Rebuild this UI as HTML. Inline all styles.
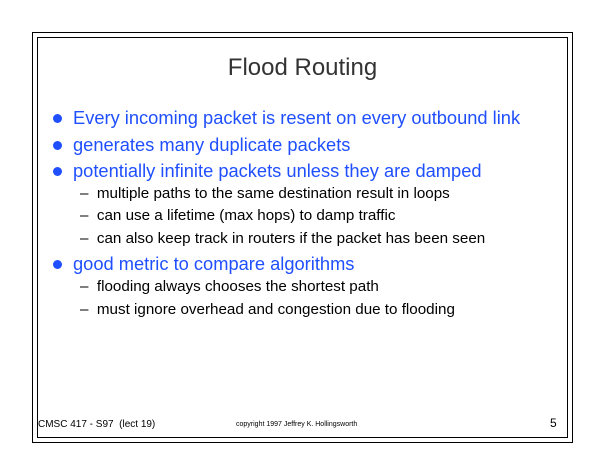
<!DOCTYPE html>
<html><head><meta charset="utf-8"><style>
body{margin:0;width:605px;height:468px;background:#fff;position:relative;overflow:hidden;font-family:"Liberation Sans",sans-serif}
.b{position:absolute;border:1.5px solid #000}
.t{position:absolute;white-space:nowrap}
.l1{color:#1f4fff;font-size:18.3px}
.l2{color:#000;font-size:15.2px}
.dot{position:absolute;width:9px;height:9px;border-radius:50%;background:#1f4fff}
</style></head><body>
<div class="b" style="left:32px;top:32px;width:539px;height:409px"></div>
<div class="b" style="left:37px;top:37px;width:529px;height:399px"></div>
<div class="t" style="left:0;width:605px;text-align:center;top:54px;font-size:24px;color:#333">Flood Routing</div>

<div class="dot" style="left:53px;top:114px"></div>
<div class="t l1" style="left:73px;top:107px">Every incoming packet is resent on every outbound link</div>
<div class="dot" style="left:53px;top:141px"></div>
<div class="t l1" style="left:73px;top:134px">generates many duplicate packets</div>
<div class="dot" style="left:53px;top:167px"></div>
<div class="t l1" style="left:73px;top:160px">potentially infinite packets unless they are damped</div>
<div class="t l2" style="left:80px;top:185px">–&nbsp; multiple paths to the same destination result in loops</div>
<div class="t l2" style="left:80px;top:207px">–&nbsp; can use a lifetime (max hops) to damp traffic</div>
<div class="t l2" style="left:80px;top:230px">–&nbsp; can also keep track in routers if the packet has been seen</div>
<div class="dot" style="left:53px;top:260px"></div>
<div class="t l1" style="left:73px;top:253px">good metric to compare algorithms</div>
<div class="t l2" style="left:80px;top:278px">–&nbsp; flooding always chooses the shortest path</div>
<div class="t l2" style="left:80px;top:301px">–&nbsp; must ignore overhead and congestion due to flooding</div>

<div class="t" style="left:38px;top:419px;font-size:10px">CMSC 417 - S97&nbsp; (lect 19)</div>
<div class="t" style="left:236px;top:421px;font-size:7px">copyright 1997 Jeffrey K. Hollingsworth</div>
<div class="t" style="left:550px;top:416px;font-size:12px">5</div>
</body></html>
